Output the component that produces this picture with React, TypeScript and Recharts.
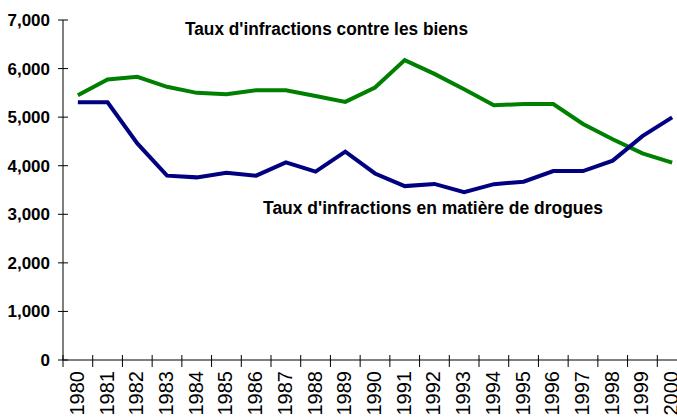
import { LineChart, Line, XAxis, YAxis } from "recharts";

const years = [
	"1980", "1981", "1982", "1983", "1984", "1985", "1986", "1987", "1988", "1989", "1990",
	"1991", "1992", "1993", "1994", "1995", "1996", "1997", "1998", "1999", "2000",
];
const propertyRate = [
	5450, 5775, 5830, 5625, 5500, 5470, 5555, 5555, 5435, 5315, 5610,
	6175, 5890, 5575, 5245, 5270, 5270, 4860, 4545, 4255, 4065,
];
const drugRate = [
	5305, 5305, 4460, 3795, 3760, 3855, 3795, 4070, 3880, 4290, 3840,
	3580, 3625, 3455, 3620, 3670, 3890, 3890, 4105, 4610, 4995,
];
const yTicks = [0, 1000, 2000, 3000, 4000, 5000, 6000, 7000];

const data = years.map((year, i) => ({
	year,
	biens: propertyRate[i],
	drogues: drugRate[i],
}));

const CHART_W = 687;
const CHART_H = 417;
const LEFT = 63;
const BAND = (CHART_W - LEFT) / years.length;
const FONT = '"Liberation Sans", Arial, sans-serif';

const XTick = ({ x, y, payload }) => (
	<g>
		<line x1={x - BAND / 2} x2={x - BAND / 2} y1={y - 5} y2={y + 7} stroke="#000" />
		<text
			x={x + 6}
			y={y + 11}
			transform={`rotate(-90, ${x + 6}, ${y + 11})`}
			textAnchor="end"
			fontFamily={FONT}
			fontSize={20}
			fill="#000"
		>
			{payload.value}
		</text>
	</g>
);

const YTick = ({ x, y, payload }) => (
	<g>
		<line x1={x - 5} x2={x + 5} y1={y} y2={y} stroke="#000" />
		<text
			x={x - 13}
			y={y}
			dy="0.35em"
			textAnchor="end"
			fontFamily={FONT}
			fontSize={17}
			fontWeight="bold"
			fill="#000"
		>
			{payload.value.toLocaleString("en-US")}
		</text>
	</g>
);

export default function App() {
	return (
		<div
			style={{
				position: "absolute",
				left: 0,
				top: 0,
				width: 677,
				height: 417,
				overflow: "hidden",
				background: "#fff",
			}}
		>
			<LineChart
				width={CHART_W}
				height={CHART_H}
				data={data}
				margin={{ top: 20, right: 0, bottom: 0, left: 0 }}
			>
				<XAxis
					dataKey="year"
					scale="band"
					interval={0}
					height={57}
					tickSize={0}
					tickMargin={0}
					tickLine={false}
					axisLine={{ stroke: "#000" }}
					tick={<XTick />}
				/>
				<YAxis
					width={LEFT}
					domain={[0, 7000]}
					ticks={yTicks}
					tickSize={0}
					tickMargin={0}
					tickLine={false}
					axisLine={{ stroke: "#000" }}
					tick={<YTick />}
				/>
				<Line
					type="linear"
					dataKey="biens"
					stroke="#008000"
					strokeWidth={4}
					dot={false}
					isAnimationActive={false}
				/>
				<Line
					type="linear"
					dataKey="drogues"
					stroke="#000080"
					strokeWidth={4}
					dot={false}
					isAnimationActive={false}
				/>
			</LineChart>
			<svg
				width={677}
				height={417}
				style={{ position: "absolute", left: 0, top: 0, pointerEvents: "none" }}
			>
				<text
					x={185}
					y={35}
					fontFamily={FONT}
					fontSize={18}
					fontWeight="bold"
					textLength={283}
					lengthAdjust="spacingAndGlyphs"
				>
					Taux d'infractions contre les biens
				</text>
				<text
					x={263}
					y={214}
					fontFamily={FONT}
					fontSize={18}
					fontWeight="bold"
					textLength={340}
					lengthAdjust="spacingAndGlyphs"
				>
					Taux d'infractions en matière de drogues
				</text>
			</svg>
		</div>
	);
}
